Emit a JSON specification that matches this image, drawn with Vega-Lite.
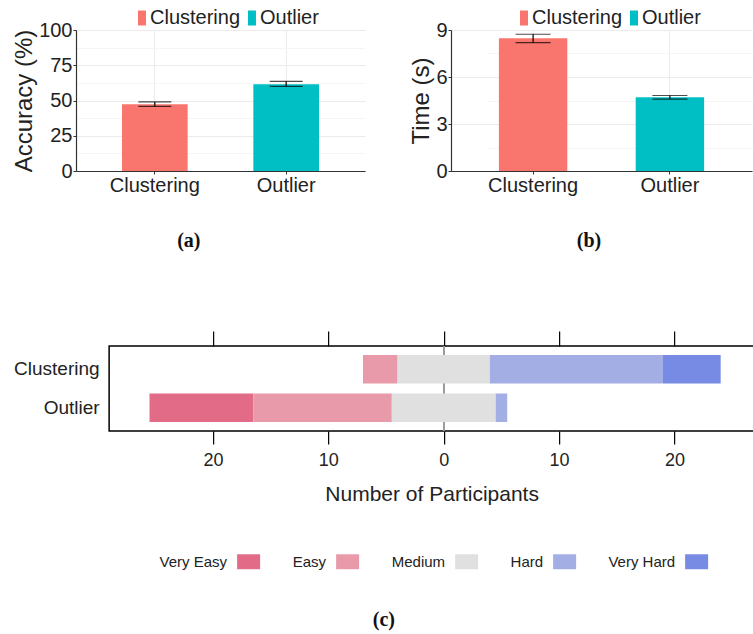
{
  "$schema": "https://vega.github.io/schema/vega-lite/v6.json",
  "padding": {"left": 12, "top": 8, "right": 0, "bottom": 0},
  "background": "white",
  "config": {
    "view": {"stroke": null},
    "font": "Liberation Sans",
    "axis": {"labelColor": "#222", "titleColor": "#222"}
  },
  "spacing": 78,
  "center": true,
  "resolve": {"scale": {"color": "independent"}, "legend": {"color": "independent"}},
  "vconcat": [
    {
      "spacing": 44,
      "resolve": {"scale": {"color": "independent"}, "legend": {"color": "independent"}},
      "hconcat": [
        {
          "width": 289,
          "height": 141,
          "title": {"text": "(a)", "orient": "bottom", "offset": 36, "frame": "bounds", "font": "Liberation Serif", "fontSize": 20, "fontWeight": "bold", "anchor": "middle", "color": "#111"},
          "data": {"values": [
            {"task": "Clustering", "accuracy": 47.4, "low": 45.8, "high": 49.0},
            {"task": "Outlier", "accuracy": 61.6, "low": 60.0, "high": 63.5}
          ]},
          "encoding": {
            "x": {"field": "task", "type": "nominal", "sort": null,
              "scale": {"paddingInner": 0.5, "paddingOuter": 0.35},
              "axis": {"title": null, "labelAngle": 0, "labelFontSize": 20, "labelPadding": 1, "tickSize": 3, "tickColor": "#333", "domainColor": "#333", "domainWidth": 1.2, "grid": true, "gridColor": "#EBEBEB", "bandPosition": 0.5}}
          },
          "layer": [
            {
              "mark": {"type": "bar"},
              "encoding": {
                "y": {"field": "accuracy", "type": "quantitative", "scale": {"domain": [0, 100], "nice": false},
                  "axis": {"title": "Accuracy (%)", "titleFontSize": 24, "titleFontWeight": "normal", "titlePadding": 2, "values": [0, 25, 50, 75, 100], "labelFontSize": 20, "labelPadding": 1, "tickSize": 3, "tickColor": "#333", "domainColor": "#333", "domainWidth": 1.2, "grid": true, "gridColor": "#EBEBEB"}},
                "color": {"field": "task", "type": "nominal",
                  "scale": {"domain": ["Clustering", "Outlier"], "range": ["#F8766D", "#00BFC4"]},
                  "legend": {"title": null, "orient": "none", "legendX": 56, "legendY": -22, "direction": "horizontal", "symbolType": "M-0.53,-1H0.53V1H-0.53Z", "symbolSize": 225, "symbolStrokeWidth": 0, "labelFontSize": 20, "labelOffset": -2, "columnPadding": 1, "labelLimit": 300, "labelColor": "#222"}}
              }
            },
            {
              "mark": {"type": "rule", "color": "black", "strokeWidth": 1.2},
              "encoding": {
                "y": {"field": "low", "type": "quantitative", "axis": {"orient": "right", "values": [12.5, 37.5, 62.5, 87.5], "labels": false, "ticks": false, "domain": false, "title": null, "grid": true, "gridColor": "#F5F5F5"}},
                "y2": {"field": "high"}
              }
            },
            {
              "mark": {"type": "tick", "color": "black", "size": 33, "thickness": 1.2},
              "encoding": {"y": {"field": "low", "type": "quantitative", "axis": null}}
            },
            {
              "mark": {"type": "tick", "color": "black", "size": 33, "thickness": 1.2},
              "encoding": {"y": {"field": "high", "type": "quantitative", "axis": null}}
            }
          ],
          "resolve": {"axis": {"y": "independent"}}
        },
        {
          "width": 337,
          "height": 141,
          "title": {"text": "(b)", "orient": "bottom", "offset": 36, "frame": "bounds", "dx": -10, "font": "Liberation Serif", "fontSize": 20, "fontWeight": "bold", "anchor": "middle", "color": "#111"},
          "data": {"values": [
            {"task": "Clustering", "time": 8.47, "low": 8.2, "high": 8.73},
            {"task": "Outlier", "time": 4.71, "low": 4.59, "high": 4.82}
          ]},
          "encoding": {
            "x": {"field": "task", "type": "nominal", "sort": null,
              "scale": {"paddingInner": 0.5, "paddingOuter": 0.35, "range": [0, 301]},
              "axis": {"title": null, "labelAngle": 0, "labelFontSize": 20, "labelPadding": 1, "tickSize": 3, "tickColor": "#333", "domainColor": "#333", "domainWidth": 1.2, "grid": true, "gridColor": "#EBEBEB", "bandPosition": 0.5}}
          },
          "layer": [
            {
              "mark": {"type": "bar"},
              "encoding": {
                "y": {"field": "time", "type": "quantitative", "scale": {"domain": [0, 9], "nice": false},
                  "axis": {"title": "Time (s)", "titleFontSize": 24, "titleFontWeight": "normal", "titlePadding": 2, "values": [0, 3, 6, 9], "labelFontSize": 20, "labelPadding": 1, "tickSize": 3, "tickColor": "#333", "domainColor": "#333", "domainWidth": 1.2, "grid": true, "gridColor": "#EBEBEB"}},
                "color": {"field": "task", "type": "nominal",
                  "scale": {"domain": ["Clustering", "Outlier"], "range": ["#F8766D", "#00BFC4"]},
                  "legend": {"title": null, "orient": "none", "legendX": 63, "legendY": -22, "direction": "horizontal", "symbolType": "M-0.53,-1H0.53V1H-0.53Z", "symbolSize": 225, "symbolStrokeWidth": 0, "labelFontSize": 20, "labelOffset": -2, "columnPadding": 1, "labelLimit": 300, "labelColor": "#222"}}
              }
            },
            {
              "mark": {"type": "rule", "color": "black", "strokeWidth": 1.2},
              "encoding": {
                "y": {"field": "low", "type": "quantitative", "axis": {"orient": "right", "values": [1.5, 4.5, 7.5], "labels": false, "ticks": false, "domain": false, "title": null, "grid": true, "gridColor": "#F5F5F5"}},
                "y2": {"field": "high"}
              }
            },
            {
              "mark": {"type": "tick", "color": "black", "size": 35, "thickness": 1.2},
              "encoding": {"y": {"field": "low", "type": "quantitative", "axis": null}}
            },
            {
              "mark": {"type": "tick", "color": "black", "size": 35, "thickness": 1.2},
              "encoding": {"y": {"field": "high", "type": "quantitative", "axis": null}}
            }
          ],
          "resolve": {"axis": {"y": "independent"}}
        }
      ]
    },
    {
      "width": 645,
      "height": 85,
      "view": {"stroke": "black", "strokeWidth": 1.5},
      "title": {"text": "(c)", "orient": "bottom", "offset": 40, "frame": "bounds", "font": "Liberation Serif", "fontSize": 20, "fontWeight": "bold", "anchor": "middle", "color": "#111"},
      "data": {"values": [
        {"question": "Clustering", "type": "Very Easy", "count": 0},
        {"question": "Clustering", "type": "Easy", "count": 3},
        {"question": "Clustering", "type": "Medium", "count": 8},
        {"question": "Clustering", "type": "Hard", "count": 15},
        {"question": "Clustering", "type": "Very Hard", "count": 5},
        {"question": "Outlier", "type": "Very Easy", "count": 9},
        {"question": "Outlier", "type": "Easy", "count": 12},
        {"question": "Outlier", "type": "Medium", "count": 9},
        {"question": "Outlier", "type": "Hard", "count": 1},
        {"question": "Outlier", "type": "Very Hard", "count": 0}
      ]},
      "transform": [
        {"calculate": "indexof(['Very Easy','Easy','Medium','Hard','Very Hard'], datum.type)", "as": "q_order"},
        {"calculate": "(datum.type === 'Very Easy' || datum.type === 'Easy') ? datum.count : (datum.type === 'Medium' ? datum.count / 2 : 0)", "as": "signed"},
        {"stack": "count", "groupby": ["question"], "sort": [{"field": "q_order", "order": "ascending"}], "as": ["v1", "v2"]},
        {"joinaggregate": [{"op": "sum", "field": "signed", "as": "offset"}], "groupby": ["question"]},
        {"calculate": "datum.v1 - datum.offset", "as": "nx"},
        {"calculate": "datum.v2 - datum.offset", "as": "nx2"}
      ],
      "layer": [
        {
          "mark": {"type": "rule", "color": "#999999", "strokeWidth": 1},
          "encoding": {
            "x": {"datum": 0, "type": "quantitative", "scale": {"domain": [-29, 26.9], "nice": false, "zero": false},
              "axis": {"orient": "top", "values": [-20, -10, 0, 10, 20], "labels": false, "tickSize": 15, "tickColor": "black", "tickWidth": 1.2, "domain": false, "grid": false, "title": null}}
          }
        },
        {
          "mark": {"type": "bar"},
          "encoding": {
            "x": {"field": "nx", "type": "quantitative", "scale": {"domain": [-29, 26.9], "nice": false, "zero": false},
              "axis": {"orient": "bottom", "values": [-20, -10, 0, 10, 20], "labelExpr": "abs(datum.value)", "labelFontSize": 18, "labelPadding": 7, "tickSize": 13, "tickColor": "black", "tickWidth": 1.2, "domain": false, "grid": false, "title": "Number of Participants", "titleFontSize": 21, "titleFontWeight": "normal", "titlePadding": 14}},
            "x2": {"field": "nx2"},
            "y": {"field": "question", "type": "nominal", "sort": ["Clustering", "Outlier"],
              "scale": {"paddingInner": 0.26, "paddingOuter": 0.234},
              "axis": {"title": null, "labelFontSize": 19, "labelPadding": 10, "ticks": false, "domain": false}},
            "color": {"field": "type", "type": "nominal",
              "scale": {"domain": ["Very Easy", "Easy", "Medium", "Hard", "Very Hard"], "range": ["#E26B87", "#E89AAA", "#E0E0E0", "#A2AEE4", "#778BE5"]},
              "legend": {"title": null, "orient": "none", "legendX": 128, "legendY": 204, "direction": "horizontal", "symbolType": "M-1,-0.65H1V0.65H-1Z", "symbolSize": 529, "symbolStrokeWidth": 0, "labelAlign": "right", "labelOffset": -33, "columnPadding": 32, "labelFontSize": 15, "labelColor": "#222", "labelLimit": 300}}
          }
        }
      ],
      "resolve": {"axis": {"x": "independent"}}
    }
  ]
}
